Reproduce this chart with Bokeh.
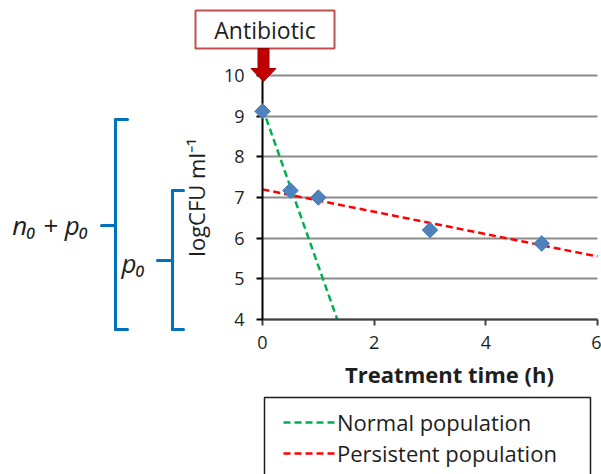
import math
from bokeh.plotting import figure
from bokeh.models import (Range1d, FixedTicker, Label, Arrow, PolyAnnotation,
                          Legend)
from bokeh.embed import file_html
from bokeh.resources import INLINE

# ---- data ----
time_h = [0, 0.5, 1, 3, 5]
log_cfu = [9.12, 7.17, 7.0, 6.2, 5.87]
normal_x = [0, 1.34]
normal_y = [9.2, 4.0]
persistent_x = [0, 6]
persistent_y = [7.2, 5.55]
x_ticks = [0, 2, 4, 6]
y_ticks = [4, 5, 6, 7, 8, 9, 10]
legend_labels = ["Normal population", "Persistent population"]

FONT = "Open Sans"
TXT = "#1e1e1e"
W, H = 601, 474
# plot area placement (page pixels): x=0 at 262, x=6 at 597; y=10 at 75, y=4 at 319
KX = (597 - 262) / 6.0
KY = (319 - 75) / 6.0
XMIN = 0 - 262 / KX
XMAX = 6 + (W - 597) / KX
YMAX = 10 + 75 / KY
YMIN = 4 - (H - 319) / KY


def dx(px):  # page pixel -> data x
    return XMIN + px / KX


def dy(py):  # page pixel -> data y
    return YMAX - py / KY


p = figure(width=W, height=H, output_backend="svg", toolbar_location=None,
           x_range=Range1d(XMIN, XMAX), y_range=Range1d(YMIN, YMAX),
           min_border=0, min_border_left=0, min_border_right=0,
           min_border_top=0, min_border_bottom=0)
p.outline_line_color = None
p.background_fill_color = "white"
p.border_fill_color = "white"

# axes drawn at x=0 / y=4
for ax, ticks in ((p.xaxis, x_ticks), (p.yaxis, y_ticks)):
    ax.ticker = FixedTicker(ticks=ticks)
    ax.major_label_text_font = FONT
    ax.major_label_text_font_size = "18px"
    ax.major_label_text_color = TXT
    ax.major_tick_out = 6
    ax.major_tick_in = 0
    ax.minor_tick_out = 0
    ax.minor_tick_in = 0
    ax.axis_line_width = 2
    ax.major_tick_line_width = 2
p.xaxis.fixed_location = 4
p.xaxis.bounds = (0, 6)
p.yaxis.fixed_location = 0
p.yaxis.bounds = (4, 10)
p.xaxis.axis_line_color = "#404040"
p.xaxis.major_tick_line_color = "#404040"
p.yaxis.axis_line_color = "black"
p.yaxis.major_tick_line_color = "black"
p.xaxis.major_label_standoff = 10
p.yaxis.major_label_standoff = 12
p.yaxis.axis_label = "logCFU ml\u207b\u00b9"
p.yaxis.axis_label_text_font = FONT
p.yaxis.axis_label_text_font_size = "22px"
p.yaxis.axis_label_text_font_style = "normal"
p.yaxis.axis_label_text_color = TXT
p.yaxis.axis_label_standoff = 10

# grid
p.xgrid.visible = False
p.ygrid.ticker = FixedTicker(ticks=y_ticks)
p.ygrid.grid_line_color = "#8c8c8c"
p.ygrid.grid_line_width = 2
p.ygrid.bounds = (4, 10)
p.ygrid.cross_bounds = (0, 6)

# data
g = p.line(normal_x, normal_y, line_color="#00b050", line_width=2.5, line_dash="7 4")
r = p.line(persistent_x, persistent_y, line_color="#ff0000", line_width=2.5, line_dash="7 4")
p.scatter(time_h, log_cfu, marker="square", size=11, angle=math.pi / 4,
          fill_color="#4f81bd", line_color="#4a7dba", level="overlay")

# x-axis title
p.add_layout(Label(x=dx(449), y=dy(373), text="Treatment time (h)",
                   text_font=FONT, text_font_size="22px", text_font_style="bold",
                   text_color=TXT, text_align="center", text_baseline="middle"))

# Antibiotic box + arrow
p.add_layout(PolyAnnotation(xs=[dx(195), dx(334), dx(334), dx(195)],
                            ys=[dy(10), dy(10), dy(48), dy(48)],
                            fill_color="white", fill_alpha=1,
                            line_color="#c0504d", line_alpha=1, line_width=2))
p.add_layout(Label(x=dx(264.5), y=dy(29), text="Antibiotic",
                   text_font=FONT, text_font_size="23px",
                   text_color=TXT, text_align="center", text_baseline="middle"))
p.add_layout(PolyAnnotation(
    xs=[dx(257.5), dx(268.5), dx(268.5), dx(275.5), dx(263), dx(250.5), dx(257.5)],
    ys=[dy(48), dy(48), dy(68), dy(68), dy(81), dy(68), dy(68)],
    fill_color="#c00000", fill_alpha=1, line_color="#9a0000", line_alpha=1,
    line_width=1))

# braces
BLUE = "#0070c0"
def seg(x0, y0, x1, y1):
    p.add_layout(Arrow(x_start=dx(x0), y_start=dy(y0), x_end=dx(x1), y_end=dy(y1),
                       start=None, end=None, line_color=BLUE, line_width=3,
                       line_cap="round"))

seg(115, 119, 115, 329); seg(115, 119, 127, 119); seg(115, 329, 127, 329); seg(115, 225, 101, 225)
seg(172, 190, 172, 329); seg(172, 190, 183, 190); seg(172, 329, 183, 329); seg(172, 260, 157, 260)

p.add_layout(Label(x=dx(50), y=dy(224), text="n\u2080 + p\u2080",
                   text_font=FONT, text_font_size="26px", text_font_style="italic",
                   text_color=TXT, text_align="center", text_baseline="middle"))
p.add_layout(Label(x=dx(133), y=dy(262), text="p\u2080",
                   text_font=FONT, text_font_size="26px", text_font_style="italic",
                   text_color=TXT, text_align="center", text_baseline="middle"))

# legend frame
p.add_layout(PolyAnnotation(xs=[dx(264), dx(590), dx(590), dx(264)],
                            ys=[dy(397), dy(397), dy(480), dy(480)],
                            fill_alpha=0, line_color="#1e1e1e", line_alpha=1,
                            line_width=1.5))
legend = Legend(items=[(legend_labels[0], [g]), (legend_labels[1], [r])],
                location=(283, 6), padding=0, margin=0, spacing=1,
                glyph_width=52, glyph_height=30, label_height=30, label_standoff=2,
                label_text_font=FONT, label_text_font_size="22px",
                label_text_color=TXT, border_line_alpha=0, background_fill_alpha=0)
p.add_layout(legend)

open("out.html", "w").write(file_html(p, INLINE))
